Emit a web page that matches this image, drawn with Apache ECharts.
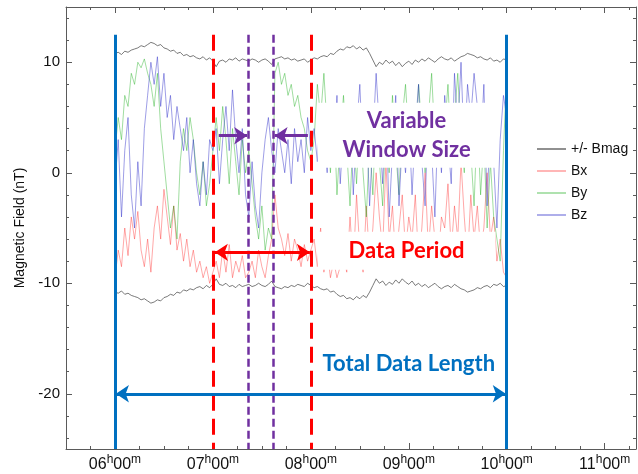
<!DOCTYPE html>
<html>
<head>
<meta charset="utf-8">
<script src="https://cdn.jsdelivr.net/npm/echarts@6/dist/echarts.min.js"></script>
<style>
  html, body { margin: 0; padding: 0; background: #fff; }
  #chart { width: 638px; height: 474px; }
</style>
</head>
<body>
<div id="chart"></div>
<script>
// samples from 06:00 to 10:00, one every 2 minutes
const startHour = 6;
const stepMin = 2;

const bmag = [
  10.8, 10.9, 10.7, 11.0, 10.9, 11.1,
  11.2, 11.3, 11.5, 11.4, 11.6, 11.8, 11.7, 11.5, 11.6, 11.3,
  11.2, 11.0, 11.1, 10.8, 10.9, 10.6, 10.7, 10.5, 10.6, 10.4,
  10.3, 10.5, 10.2, 10.4, 10.1,
  9.6, 10.1, 10.2, 10.0, 10.3, 10.2, 10.4, 10.1, 10.3, 10.2,
  10.1, 10.3, 10.2, 10.0, 10.2, 10.3, 10.1, 9.8, 10.3, 10.4,
  10.5, 10.3, 10.4, 10.2, 10.3, 10.1, 10.2, 10.3, 10.0, 10.2,
  10.4, 10.3, 10.5, 10.6, 10.5, 10.8, 10.7, 11.0, 11.2, 11.1,
  11.4, 11.3, 11.5, 11.2, 11.4, 11.1, 11.3, 10.8, 10.2, 9.6,
  10.0, 9.8, 10.2, 9.9, 10.1, 9.7, 10.0, 9.6, 9.9, 10.1,
  9.8, 10.2, 10.0, 10.3, 10.1, 10.4, 10.2, 10.0, 10.3, 10.5,
  10.3, 10.2, 10.4, 10.1, 10.3, 10.5, 10.6, 10.8, 10.7, 10.6,
  10.4, 10.5, 10.3, 10.2, 10.4, 10.1, 10.2, 10.0, 10.3, 10.2
];

const bx = [
  -9.5, -7, -8.5, -5, -7.5, -4,
  -6, -3.5, -7, -8.5, -6, -9, -5, -3, -6, -1.5,
  -4, -6.5, -3, -7, -5.5, -8, -6, -8.5, -7, -9,
  -8, -9.5, -8.5, -10, -9,
  -8, -9.5, -7, -9, -6.5, -9.5, -8, -9, -7.5, -9.5,
  -9, -8, -9.5, -7, -8.5, -9.5, -7.5, -6, -2, -5,
  -6, -7.5, -5.5, -8, -6, -7, -8.5, -6.5, -8, -7,
  -6, -8.5, -5, -9, -7, -9.5, -8, -9.5, -8.5, -7.5,
  -9, -4, -8.5, -2, -7, -9, -3, -8, -5, 0,
  -4, -7, 1, -6, -3, -8, -5, -2, -7, -4,
  -6, -2, -8, -5, 0, -7, -3, -6, -8, -4,
  -5, -1, -7, -3, -6, 1, -4, -8, -2, -6,
  -3, -7, -5, 0, -6, -4, -8, -6, -9, -9.5
];

const by = [
  2, 5, 3, 7, 6, 9,
  8, 10, 9.5, 10.3, 9, 8, 6, 9, 4, 1,
  -2, -5, -3, -6, 1, 4, 2, 5, 3, 0,
  -2, 1, -3, -1, 2,
  5, 2, 6, 3, -1, 4, 1, -2, 3, 0,
  2, -1, -4, -6, -3, -7, -5, -6, 9, 10,
  8, 9, 7, 8, 6, 7, 5, 4, 2, 1,
  3, 8, 5, 9, 4, 0, 6, -2, 3, 7,
  2, -3, 4, -1, 5, 0, -4, 3, -2, 6,
  1, -3, 4, 0, 7, 2, -2, 5, 8, 3,
  6, 2, 8, 4, 0, 5, 9, 3, 6, 1,
  4, 8, 2, 5, 9, 3, 0, 6, 2, -3,
  5, -2, 3, -5, 1, -4, -6, -8, 2, 9
];

const bz = [
  -1, 3, -4, 2, 5, -2,
  -5, 1, -3, 4, 7, 10, 8, 10.5, 6, 9,
  5, 7, 3, 6, 4, 2, 5, 0, 3, -1,
  -3, 1, -2, 3, 2,
  4, -1, 3, 6, 2, 7.5, 3, 0, 4, -2,
  -4, 1, -3, -5, 0, 3, 5, 2, 0, 4,
  2, 0, 3, -1, 4, 1, 3, 0, 5, 2,
  4, 1, 6, 3, 0, 5, 2, 7, -1, 4,
  2, 6, -2, 4, 8, 1, 5, -3, 3, 9,
  4, -1, 6, -4, 2, 7, -3, 3, 0, 5,
  -2, 4, 8, 1, -3, 6, 2, -4, 5, 0,
  7, 3, -1, 9, 4, 10, 2, 8, 5, 9,
  6, 2, 8, -3, 5, 1, -5, 3, 7, 5
];

const hourTicks = [6, 7, 8, 9, 10, 11];
const quarterTicks = [5.75, 6.25, 6.5, 6.75, 7.25, 7.5, 7.75, 8.25, 8.5, 8.75,
  9.25, 9.5, 9.75, 10.25, 10.5, 10.75, 11.25];
const yMajorTicks = [-20, -10, 0, 10];
const yMinorTicks = [-24, -22, -18, -16, -14, -12, -8, -6, -4, -2, 2, 4, 6, 8, 12, 14];

// annotation positions (hours, nT)
const totalSpan = [6, 10];
const periodSpan = [7, 8];
const windowSpan = [7.36, 7.615];

const BLUE = '#0070C0', RED = '#FF0000', PURPLE = '#7030A0';
const AXIS = '#5a5a5a';
const FONT = 'Liberation Sans';
const CAL = 'Lato';

const toXY = arr => arr.map((v, i) => [startHour + i * stepMin / 60, v]);
const pad = n => (n < 10 ? '0' : '') + n;

function xAx(position, ticks, len, withLabels, withLine) {
  return {
    type: 'value', min: 5.5, max: 11.32, position: position,
    axisLine: { show: withLine, onZero: false, lineStyle: { color: AXIS, width: 1 } },
    axisTick: { show: true, inside: true, length: len, customValues: ticks, lineStyle: { color: AXIS } },
    axisLabel: withLabels ? {
      show: true, customValues: hourTicks, margin: 5,
      formatter: v => `{n|${pad(v)}}{s|h}{n|00}{s|m}`,
      rich: {
        n: { fontFamily: FONT, fontSize: 16, color: '#111', lineHeight: 21 },
        s: { fontFamily: FONT, fontSize: 12, color: '#111', lineHeight: 12, verticalAlign: 'top' }
      }
    } : { show: false },
    splitLine: { show: false }
  };
}

function yAx(position, ticks, len, withLabels, withLine) {
  const ax = {
    type: 'value', min: -25, max: 15, position: position,
    axisLine: { show: withLine, onZero: false, lineStyle: { color: AXIS, width: 1 } },
    axisTick: { show: true, inside: true, length: len, customValues: ticks, lineStyle: { color: AXIS } },
    axisLabel: withLabels ? {
      show: true, customValues: yMajorTicks, margin: 6,
      fontFamily: FONT, fontSize: 15, color: '#111'
    } : { show: false },
    splitLine: { show: false }
  };
  if (withLabels) {
    ax.name = 'Magnetic Field (nT)';
    ax.nameLocation = 'middle';
    ax.nameGap = 37;
    ax.nameTextStyle = { fontFamily: FONT, fontSize: 14, color: '#111' };
  }
  return ax;
}

function dataLine(name, arr, color) {
  return {
    name: name, type: 'line', data: toXY(arr), symbol: 'none',
    xAxisIndex: 0, yAxisIndex: 0, z: 2,
    lineStyle: { color: color, width: 0.9 }, itemStyle: { color: color },
    animation: false
  };
}

const vline = (x, top, style) => [{ coord: [x, top], lineStyle: style }, { coord: [x, -25] }];
const blueStyle = { color: BLUE, width: 3, type: 'solid' };
const redStyle = { color: RED, width: 3, type: [16, 8] };
const purpleStyle = { color: PURPLE, width: 2.5, type: [8, 4] };

const chart = echarts.init(document.getElementById('chart'));
chart.setOption({
  animation: false,
  grid: { left: 66, top: 7, right: 2, bottom: 25 },
  xAxis: [
    xAx('bottom', hourTicks, 6, true, true),
    xAx('bottom', quarterTicks, 3, false, false),
    xAx('top', hourTicks, 6, false, true),
    xAx('top', quarterTicks, 3, false, false)
  ],
  yAxis: [
    yAx('left', yMajorTicks, 6, true, true),
    yAx('left', yMinorTicks, 3, false, false),
    yAx('right', yMajorTicks, 6, false, true),
    yAx('right', yMinorTicks, 3, false, false)
  ],
  legend: {
    orient: 'vertical', left: 532, top: 137,
    icon: 'rect', itemWidth: 29, itemHeight: 1.5, itemGap: 8,
    textStyle: { fontFamily: FONT, fontSize: 14, lineHeight: 14, color: '#111' },
    data: ['+/- Bmag', 'Bx', 'By', 'Bz']
  },
  series: [
    dataLine('Bx', bx, 'rgba(255,40,40,0.45)'),
    dataLine('By', by, 'rgba(20,170,20,0.45)'),
    dataLine('Bz', bz, 'rgba(40,40,200,0.5)'),
    dataLine('+/- Bmag', bmag, 'rgba(70,70,70,0.8)'),
    dataLine('+/- Bmag', bmag.map(v => -v), 'rgba(70,70,70,0.8)'),
    {
      name: 'annotations', type: 'line', data: [[6, 0]], symbol: 'none',
      lineStyle: { opacity: 0 }, z: 5, silent: true,
      markArea: {
        silent: true, z: 6,
        itemStyle: { color: '#fff' },
        label: {
          show: true, position: 'inside', fontFamily: CAL, fontWeight: 'bold',
          fontSize: 22, lineHeight: 29
        },
        data: [
          [{ name: 'Variable\nWindow Size', coord: [8.07, 6.33], label: { color: PURPLE } },
           { coord: [9.885, 0.45] }],
          [{ name: 'Data Period', coord: [8.07, -5.33], label: { color: RED } },
           { coord: [9.885, -8.77] }]
        ]
      },
      markPoint: {
        silent: true, symbol: 'rect', symbolSize: 1,
        itemStyle: { color: 'rgba(0,0,0,0)' },
        label: {
          show: true, position: 'inside', formatter: '{b}',
          fontFamily: CAL, fontWeight: 'bold', fontSize: 22, color: BLUE
        },
        data: [{ name: 'Total Data Length', coord: [9, -17.3] }]
      },
      markLine: {
        silent: true, symbol: ['none', 'none'], label: { show: false },
        data: [
          vline(totalSpan[0], 12.5, blueStyle),
          vline(totalSpan[1], 12.5, blueStyle),
          vline(periodSpan[0], 12.5, redStyle),
          vline(periodSpan[1], 12.5, redStyle),
          vline(windowSpan[0], 12.5, purpleStyle),
          vline(windowSpan[1], 12.5, purpleStyle),
          [{ coord: [totalSpan[0] + 0.01, -20], symbol: 'arrow', symbolSize: 13, lineStyle: blueStyle },
           { coord: [totalSpan[1] - 0.01, -20], symbol: 'arrow', symbolSize: 13 }],
          [{ coord: [periodSpan[0] + 0.02, -7.2], symbol: 'arrow', symbolSize: 13, lineStyle: { color: RED, width: 3, type: 'solid' } },
           { coord: [periodSpan[1] - 0.01, -7.2], symbol: 'arrow', symbolSize: 13 }],
          [{ coord: [7.06, 3.35], symbol: 'none', lineStyle: { color: PURPLE, width: 3, type: 'solid' } },
           { coord: [windowSpan[0] - 0.01, 3.35], symbol: 'arrow', symbolSize: 13 }],
          [{ coord: [7.97, 3.35], symbol: 'none', lineStyle: { color: PURPLE, width: 3, type: 'solid' } },
           { coord: [windowSpan[1] + 0.015, 3.35], symbol: 'arrow', symbolSize: 13 }]
        ]
      }
    }
  ]
});
</script>
</body>
</html>
